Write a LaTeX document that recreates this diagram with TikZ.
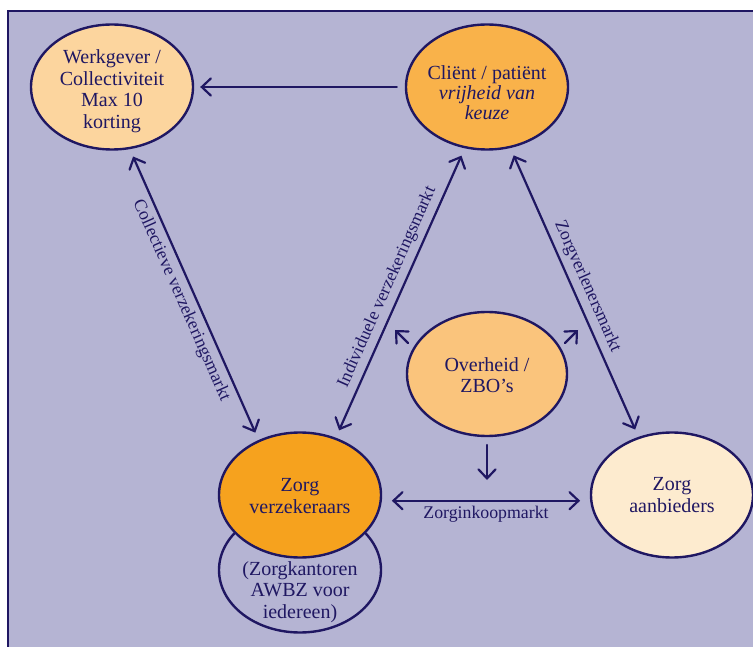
\documentclass[tikz,border=0pt]{standalone}
\usepackage{fontspec}
\setmainfont{Liberation Serif}
\usetikzlibrary{shapes.geometric,arrows.meta}
\definecolor{bg}{HTML}{B5B4D3}
\definecolor{navy}{HTML}{1F1762}
\definecolor{wgfill}{HTML}{FCD59E}
\definecolor{clfill}{HTML}{F9B24A}
\definecolor{ovfill}{HTML}{FAC47C}
\definecolor{zvfill}{HTML}{F6A21E}
\definecolor{zafill}{HTML}{FDEBCF}
\tikzset{
  ell/.style={ellipse, draw=navy, line width=2.4pt, inner sep=0pt, minimum width=162pt, minimum height=125pt},
  txt/.style={align=center, text=navy, inner sep=0pt, font=\fontsize{20}{21.5}\selectfont},
  lab/.style={text=navy, inner sep=5pt, font=\fontsize{17.8}{19}\selectfont},
  arr/.style={line width=2.2pt, draw=navy, line cap=round},
  >={Straight Barb[length=9pt,width=17pt,line cap=round]}
}
\begin{document}
\begin{tikzpicture}[x=1pt,y=-1pt]
\useasboundingbox (0,0) rectangle (753,647);
\clip (0,0) rectangle (753,647);
\fill[white] (0,0) rectangle (753,647);
\draw[line width=2pt, draw=navy, fill=bg] (8,11) rectangle (775,675);

% ellipses
\node[ell, fill=wgfill] (wg) at (112,87) {};
\node[ell, fill=clfill] (cl) at (487,87) {};
\node[ell, fill=ovfill, minimum width=160pt, minimum height=124pt] (ov) at (487,374) {};
\node[ell, fill=bg] (lk) at (300,570) {};
\node[ell, fill=zvfill] (zv) at (300,495) {};
\node[ell, fill=zafill] (za) at (672,495) {};

% texts
\node[txt] (wgt) at (112,91) {Werkgever /\\Collectiviteit\\Max 10\\korting};
\node[txt, font=\fontsize{20}{20}\selectfont] (clt) at (487,93) {Cliënt / patiënt\\\textit{vrijheid van}\\\textit{keuze}};
\node[txt] (ovt) at (487,375) {Overheid /\\ZBO’s};
\node[txt] (zvt) at (300,496) {Zorg\\verzekeraars};
\node[txt] (lkt) at (300,592) {(Zorgkantoren\\AWBZ voor\\iedereen)};
\node[txt] (zat) at (672,495) {Zorg\\aanbieders};

% connectors
\draw[arr,->, shorten <=8pt, shorten >=6pt] (cl.west) -- (wg.east);
\draw[arr,<->, shorten <=8pt, shorten >=8pt] (wg.-74.5) -- node[lab, midway, below, sloped] {Collectieve verzekeringsmarkt} (zv.127);
\draw[arr,<->, shorten <=8pt, shorten >=8pt] (zv.58) -- node[lab, midway, above, sloped] {Individuele verzekeringsmarkt} (cl.250.3);
\draw[arr,<->, shorten <=8pt, shorten >=8pt] (cl.-69.4) -- node[lab, midway, above, sloped] {Zorgverlenersmarkt} (za.120.4);
\draw[arr,<->, shorten <=10pt, shorten >=10pt] (zv.-4) -- node[lab, midway, below, inner sep=4pt] (zkm) {Zorginkoopmarkt} (za.184);

% Overheid arrows
\coordinate (o1s) at (408,343);
\coordinate (o1e) at (395,330);
\coordinate (o2s) at (565,343);
\coordinate (o2e) at (578,330);
\coordinate (o3s) at (487,445);
\coordinate (o3e) at (487,480);
\draw[arr,->] (o1s) -- (o1e);
\draw[arr,->] (o2s) -- (o2e);
\draw[arr,->] (o3s) -- (o3e);
\end{tikzpicture}
\end{document}
